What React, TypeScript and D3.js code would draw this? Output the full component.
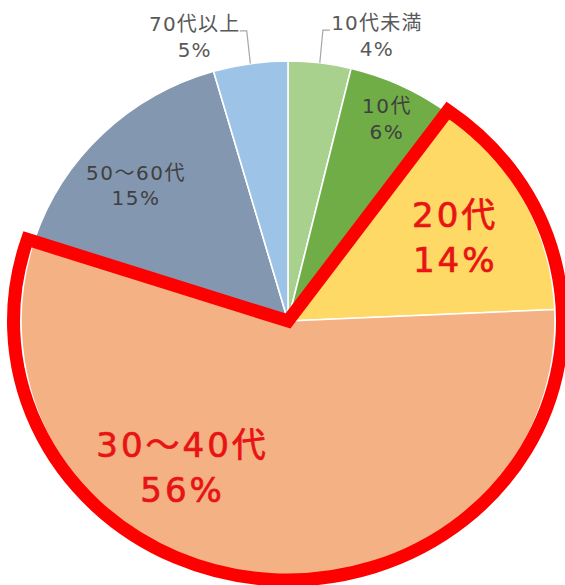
import React from "react";
import * as d3 from "d3";

const categories = ["10代未満", "10代", "20代", "30～40代", "50～60代", "70代以上"];
// slice sizes (labels show the rounded figures)
const shares = [3.8, 6.1, 14.4, 55.8, 15.4, 4.5];
const colors = ["#a9d18e", "#70ad47", "#ffd966", "#f4b183", "#8497b0", "#9dc3e6"];
const highlighted = ["20代", "30～40代"];

// label placement: r = distance from centre, da = angle offset (deg) from slice middle
const labelLayout: Record<string, { r: number; da: number; size: number; gap: number; outside?: boolean; dx?: number }> = {
  "10代未満": { r: 293, da: 0, size: 20, gap: 26, outside: true, dx: 54 },
  "10代": { r: 219, da: 2.2, size: 20, gap: 26 },
  "20代": { r: 182, da: 5.2, size: 34, gap: 45 },
  "30～40代": { r: 190, da: 25.8, size: 34, gap: 45 },
  "50～60代": { r: 199, da: -5.9, size: 20, gap: 25 },
  "70代以上": { r: 293, da: 0, size: 20, gap: 26, outside: true, dx: -52 },
};

const W = 565;
const H = 585;
const CX = 288;
const CY = 321;
const RX = 267;
const RY = 260;
const RED_RX = 274.5;
const RED_RY = 259;
const FONT = "'DejaVu Sans', 'Noto Sans CJK JP', sans-serif";

export default function App() {
  const data = categories.map((c, i) => ({ name: c, value: shares[i], color: colors[i] }));
  const pie = d3.pie<(typeof data)[number]>().sort(null).value((d) => d.value);
  const arcs = pie(data);
  const arc = d3.arc<d3.PieArcDatum<(typeof data)[number]>>().innerRadius(0).outerRadius(RX);

  const hi = arcs.filter((a) => highlighted.includes(a.data.name));
  const hiArc = d3
    .arc()
    .innerRadius(0)
    .outerRadius(RED_RX)({
    startAngle: d3.min(hi, (a) => a.startAngle)!,
    endAngle: d3.max(hi, (a) => a.endAngle)!,
  } as any);

  const polar = (ang: number, r: number): [number, number] => [Math.sin(ang) * r, -Math.cos(ang) * r];
  const pct = (v: number) => `${Math.round(v)}%`;

  return (
    <svg width={W} height={H} style={{ position: "absolute", left: 0, top: 0 }}>
      <g transform={`translate(${CX},${CY})`}>
        <g transform={`scale(1,${RY / RX})`}>
          {arcs.map((a) => (
            <path
              key={a.data.name}
              d={arc(a)!}
              fill={a.data.color}
              stroke="#ffffff"
              strokeWidth={1.6}
              vectorEffect="non-scaling-stroke"
            />
          ))}
        </g>
        <g transform={`scale(1,${RED_RY / RED_RX})`}>
          <path
            d={hiArc!}
            fill="none"
            stroke="#ff0000"
            strokeWidth={13}
            strokeLinejoin="miter"
            vectorEffect="non-scaling-stroke"
          />
        </g>
        {arcs.map((a) => {
          const L = labelLayout[a.data.name];
          const mid = (a.startAngle + a.endAngle) / 2;
          const isHi = highlighted.includes(a.data.name);
          const fill = isHi ? "#e81414" : "#404040";
          if (L.outside) {
            const [ex, ey] = polar(mid, RX);
            const x0 = ex;
            const y0 = (ey * RY) / RX;
            const [x1, y1] = polar(mid, L.r);
            const sx = Math.sign(L.dx!);
            const x2 = x1 + sx * 7;
            const tx = x1 + L.dx!;
            return (
              <g key={a.data.name}>
                <polyline
                  points={`${x0},${y0} ${x1},${y1} ${x2},${y1}`}
                  fill="none"
                  stroke="#a6a6a6"
                  strokeWidth={1.2}
                />
                <g fontFamily={FONT} fontSize={L.size} fill="#595959" textAnchor="middle" letterSpacing={1.2}>
                  <text x={tx} y={y1}>{a.data.name}</text>
                  <text x={tx} y={y1 + L.gap}>{pct(a.data.value)}</text>
                </g>
              </g>
            );
          }
          const [lx, ly] = polar(mid + (L.da * Math.PI) / 180, L.r);
          return (
            <g
              key={a.data.name}
              fontFamily={FONT}
              fontSize={L.size}
              fill={fill}
              stroke={isHi ? fill : "none"}
              strokeWidth={isHi ? 0.7 : 0}
              textAnchor="middle"
              letterSpacing={isHi ? 3 : 1.5}
            >
              <text x={lx} y={ly - L.gap / 2}>{a.data.name}</text>
              <text x={lx} y={ly + L.gap / 2}>{pct(a.data.value)}</text>
            </g>
          );
        })}
      </g>
    </svg>
  );
}
